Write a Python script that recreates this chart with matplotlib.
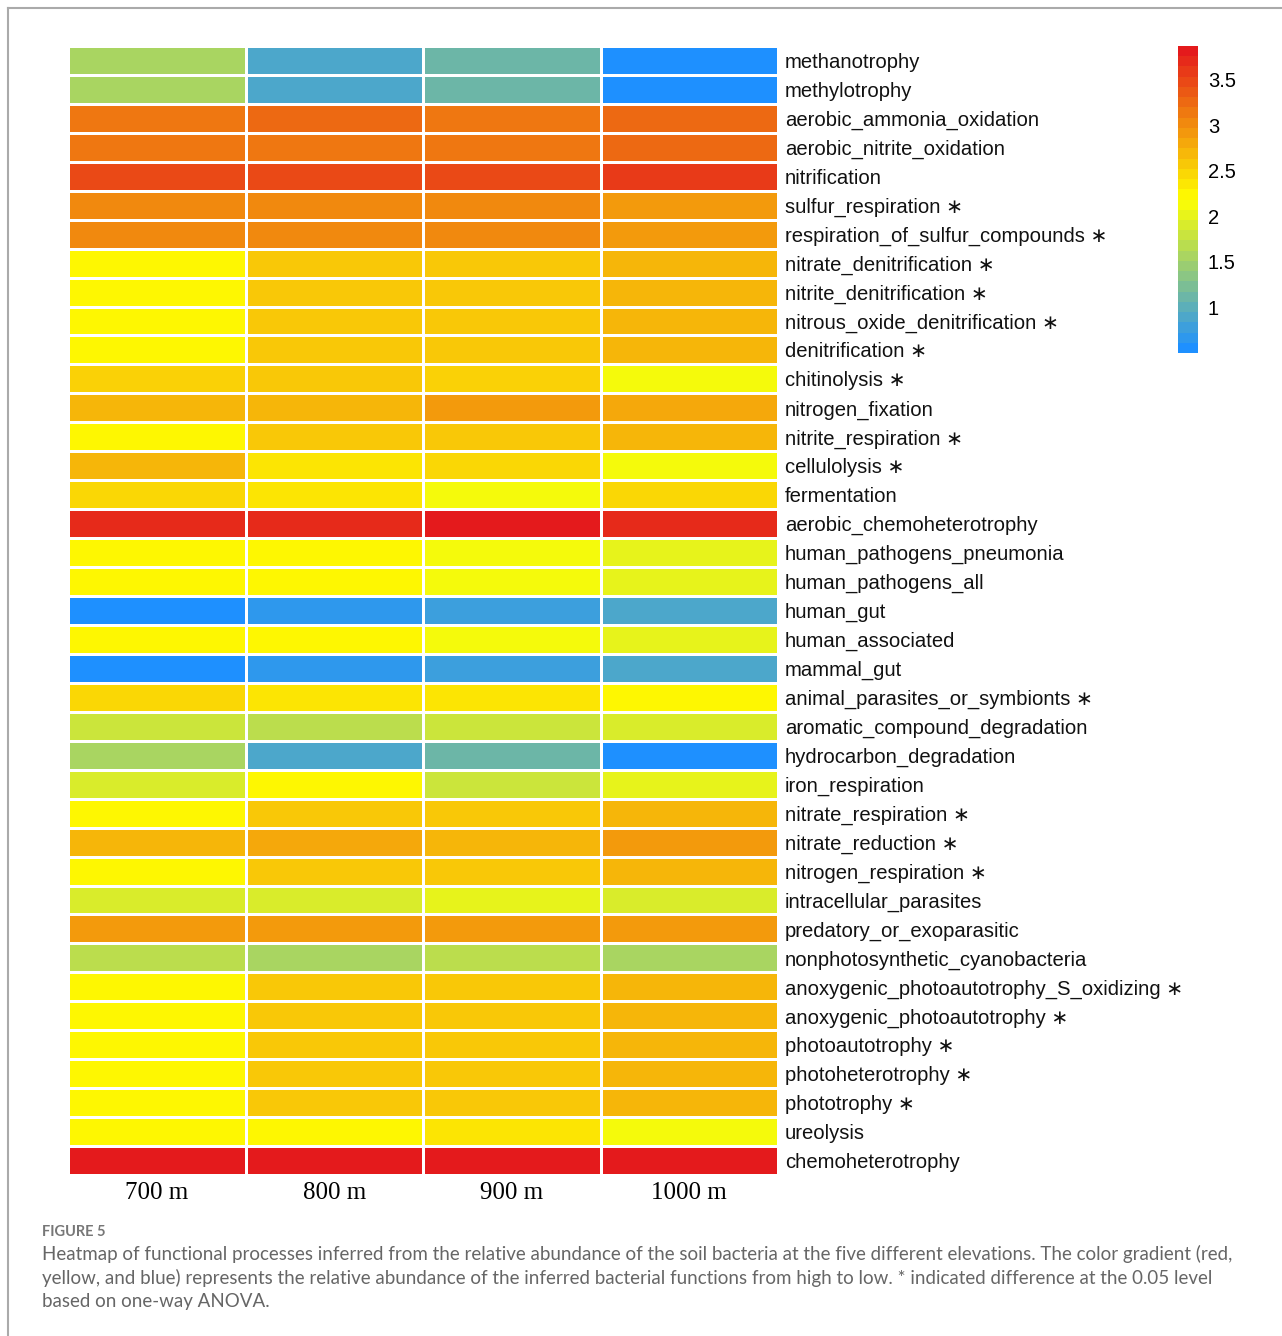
import numpy as np
import matplotlib
matplotlib.use("Agg")
import matplotlib.pyplot as plt
from matplotlib.colors import LinearSegmentedColormap, Normalize
from matplotlib.cm import ScalarMappable
from matplotlib.lines import Line2D

# data (top row first)
functions = [
    "methanotrophy", "methylotrophy", "aerobic_ammonia_oxidation",
    "aerobic_nitrite_oxidation", "nitrification", "sulfur_respiration",
    "respiration_of_sulfur_compounds", "nitrate_denitrification",
    "nitrite_denitrification", "nitrous_oxide_denitrification",
    "denitrification", "chitinolysis", "nitrogen_fixation",
    "nitrite_respiration", "cellulolysis", "fermentation",
    "aerobic_chemoheterotrophy", "human_pathogens_pneumonia",
    "human_pathogens_all", "human_gut", "human_associated", "mammal_gut",
    "animal_parasites_or_symbionts", "aromatic_compound_degradation",
    "hydrocarbon_degradation", "iron_respiration", "nitrate_respiration",
    "nitrate_reduction", "nitrogen_respiration", "intracellular_parasites",
    "predatory_or_exoparasitic", "nonphotosynthetic_cyanobacteria",
    "anoxygenic_photoautotrophy_S_oxidizing", "anoxygenic_photoautotrophy",
    "photoautotrophy", "photoheterotrophy", "phototrophy", "ureolysis",
    "chemoheterotrophy",
]
significant = [
    0, 0, 0, 0, 0, 1, 1, 1, 1, 1, 1, 1, 0, 1, 1, 0, 0, 0, 0, 0, 0, 0,
    1, 0, 0, 0, 1, 1, 1, 0, 0, 0, 1, 1, 1, 1, 1, 0, 0,
]
elevations = ["700 m", "800 m", "900 m", "1000 m"]

v700 = [1.54, 1.54, 3.18, 3.18, 3.52, 3.05, 3.05, 2.25, 2.25, 2.25, 2.25,
        2.52, 2.72, 2.25, 2.72, 2.48, 3.75, 2.25, 2.25, 0.50, 2.25, 0.50,
        2.48, 1.80, 1.54, 1.90, 2.25, 2.72, 2.25, 1.90, 2.93, 1.68, 2.25,
        2.25, 2.25, 2.25, 2.25, 2.25, 3.87]
v800 = [0.85, 0.85, 3.29, 3.18, 3.52, 3.05, 3.05, 2.58, 2.58, 2.58, 2.58,
        2.58, 2.72, 2.58, 2.37, 2.37, 3.75, 2.25, 2.25, 0.63, 2.25, 0.63,
        2.37, 1.68, 0.85, 2.25, 2.58, 2.82, 2.58, 1.90, 2.93, 1.54, 2.58,
        2.58, 2.58, 2.58, 2.58, 2.25, 3.87]
v900 = [1.09, 1.09, 3.18, 3.18, 3.52, 3.05, 3.05, 2.58, 2.58, 2.58, 2.58,
        2.52, 2.93, 2.58, 2.48, 2.11, 3.87, 2.11, 2.11, 0.73, 2.11, 0.73,
        2.37, 1.80, 1.09, 1.80, 2.58, 2.72, 2.58, 2.01, 2.93, 1.68, 2.58,
        2.58, 2.58, 2.58, 2.58, 2.37, 3.87]
v1000 = [0.50, 0.50, 3.29, 3.29, 3.63, 2.93, 2.93, 2.72, 2.72, 2.72, 2.72,
         2.11, 2.82, 2.72, 2.11, 2.48, 3.75, 2.01, 2.01, 0.85, 2.01, 0.85,
         2.25, 1.90, 0.50, 2.01, 2.72, 2.93, 2.72, 1.90, 2.93, 1.54, 2.72,
         2.72, 2.72, 2.72, 2.72, 2.11, 3.87]

cbar_ticks = [1, 1.5, 2, 2.5, 3, 3.5]

data = np.column_stack([v700, v800, v900, v1000])
labels = [f + " \u2217" if s else f for f, s in zip(functions, significant)]

cmap = LinearSegmentedColormap.from_list(
    "byr", ["#1E90FF", "#FFFF00", "#E41A1C"])
norm = Normalize(vmin=0.5, vmax=3.87)

W, H = 1282, 1336
fig = plt.figure(figsize=(W / 100, H / 100), dpi=100)

# outer frame
fig.add_artist(Line2D([8 / W, 1], [1 - 8 / H, 1 - 8 / H], color="#aaaaaa", lw=1.5))
fig.add_artist(Line2D([8 / W, 8 / W], [0, 1 - 8 / H], color="#aaaaaa", lw=1.5))

ax = fig.add_axes([68 / W, 1 - 1175 / H, 710 / W, 1129 / H])
ax.pcolormesh(data, cmap=cmap, norm=norm, edgecolors="white", linewidth=1.0)
ax.set_xlim(0, 4)
ax.set_ylim(len(functions), 0)
for s in ax.spines.values():
    s.set_visible(False)

ax.yaxis.tick_right()
ax.set_yticks(np.arange(len(functions)) + 0.5)
ax.set_yticklabels(labels, fontsize=14.6, family=["Liberation Sans", "DejaVu Sans"],
                   color="#111111")
ax.set_xticks(np.arange(4) + 0.5)
ax.set_xticklabels(elevations, fontsize=18, family="Liberation Serif")
ax.tick_params(axis="both", length=0)
ax.tick_params(axis="y", pad=5)
ax.tick_params(axis="x", pad=5)

# colour bar
cax = fig.add_axes([1178 / W, 1 - 353 / H, 20 / W, 307 / H])
sm = ScalarMappable(norm=norm, cmap=cmap.resampled(30))
cb = fig.colorbar(sm, cax=cax, ticks=cbar_ticks)
cb.outline.set_visible(False)
cb.ax.set_yticklabels([f"{t:g}" for t in cbar_ticks])
cb.ax.tick_params(length=0, pad=7)
for t in cb.ax.get_yticklabels():
    t.set_fontsize(14.5)
    t.set_family("Liberation Sans")

# caption
fig.text(42 / W, 1 - 1232 / H, "FIGURE 5", fontsize=10.5, color="#777777",
         family="Lato", weight="bold", va="center")
caption = [
    "Heatmap of functional processes inferred from the relative abundance of the soil bacteria at the five different elevations. The color gradient (red,",
    "yellow, and blue) represents the relative abundance of the inferred bacterial functions from high to low. * indicated difference at the 0.05 level",
    "based on one-way ANOVA.",
]
for i, line in enumerate(caption):
    fig.text(42 / W, 1 - (1254 + 24 * i) / H, line, fontsize=13.5,
             color="#666666", family="Lato", va="center")

fig.savefig("out.png", dpi=100)
